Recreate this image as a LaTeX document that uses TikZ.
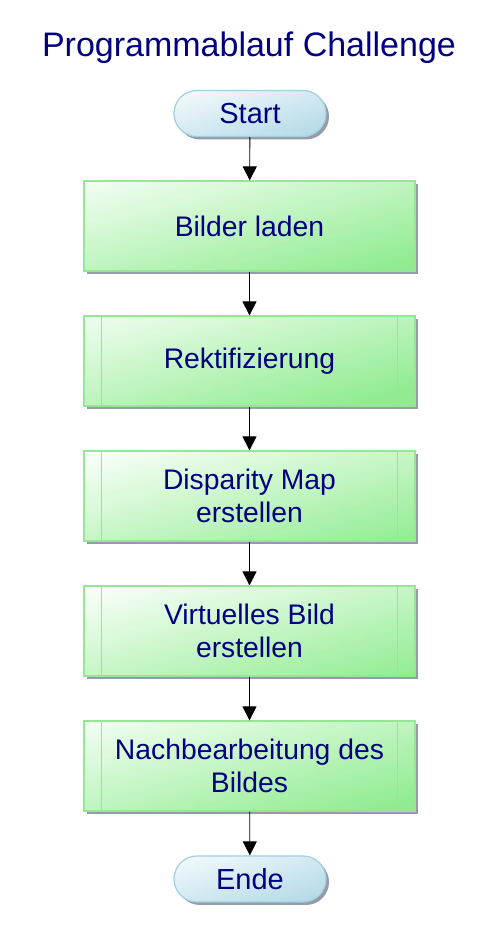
\documentclass[tikz,border=0pt]{standalone}
\usepackage{fontspec}
\setmainfont{Liberation Sans}
\usetikzlibrary{arrows.meta,shadows,calc}

\definecolor{txtnavy}{RGB}{0,0,128}
\definecolor{procfillA}{RGB}{250,255,250}
\definecolor{procfillB}{RGB}{144,236,144}
\definecolor{procline}{RGB}{150,230,150}
\definecolor{termfillA}{RGB}{246,251,253}
\definecolor{termfillB}{RGB}{176,216,230}
\definecolor{termline}{RGB}{160,208,224}
\definecolor{shadowgray}{RGB}{150,155,170}

\tikzset{
  % diagonal colour bands: #1 at the top left corner, #2 at the bottom right,
  % #3 x #4 is the size of the shape
  diagfill/.style n args={4}{fill=#2,path picture={
    \fill[#1] (path picture bounding box.south west) rectangle (path picture bounding box.north east);
    \begin{scope}[shift={(path picture bounding box.south west)},x=#3,y=#4]
      \foreach \k in {0,...,39}{
        \pgfmathsetmacro\ca{\k==0 ? -2 : -1+\k/20}
        \pgfmathsetmacro\cb{\k==39 ? 2 : -1+(\k+1)/20+0.01}
        \pgfmathsetmacro\pc{100-100*(\k+0.5)/40}
        \fill[#1!\pc!#2] ({\ca-1},-1) -- ({\ca+2},2) -- ({\cb+2},2) -- ({\cb-1},-1) -- cycle;
      }
    \end{scope}}},
  boxshadow/.style={drop shadow={shadow xshift=3pt,shadow yshift=-3pt,fill=shadowgray,opacity=1}},
  process/.style={draw=procline,line width=1.2pt,boxshadow,
    diagfill={procfillA}{procfillB}{331pt}{90pt},
    minimum width=331pt,minimum height=90pt,inner sep=0pt,
    text=txtnavy,align=center,font=\fontsize{28.3}{33}\selectfont},
  terminal/.style={draw=termline,line width=1.2pt,boxshadow,rounded corners=23pt,
    diagfill={termfillA}{termfillB}{152pt}{46pt},
    minimum width=152pt,minimum height=46pt,inner sep=0pt,
    text=txtnavy,font=\fontsize{29}{33}\selectfont},
  flow/.style={draw=black,line width=0.8pt,-{Triangle[width=14pt,length=14pt]}},
  sidebar/.style={draw=procline,line width=1.2pt}
}

\begin{document}
\begin{tikzpicture}[x=1pt,y=1pt]
  \useasboundingbox[fill=white] (0,0) rectangle (498,945);

  \node[text=txtnavy,font=\fontsize{34}{40}\selectfont] (title) at (249,897) {Programmablauf Challenge};

  \node[terminal] (start) at (250,831.5) {Start};
  \node[process] (p1) at (249.5,719) {Bilder laden};
  \node[process] (p2) at (249.5,584) {Rektifizierung};
  \node[process] (p3) at (249.5,449) {Disparity Map\\erstellen};
  \node[process] (p4) at (249.5,314) {Virtuelles Bild\\erstellen};
  \node[process] (p5) at (249.5,179) {Nachbearbeitung des\\Bildes};
  \node[terminal] (ende) at (250,66) {Ende};

  % inner vertical bars of the predefined-process boxes
  \foreach \n in {p2,p3,p4,p5}{
    \draw[sidebar] ($(\n.north west)+(18,0)$) -- ($(\n.south west)+(18,0)$);
    \draw[sidebar] ($(\n.north east)+(-18,0)$) -- ($(\n.south east)+(-18,0)$);
  }

  \draw[flow] (start) -- (p1);
  \draw[flow] (p1) -- (p2);
  \draw[flow] (p2) -- (p3);
  \draw[flow] (p3) -- (p4);
  \draw[flow] (p4) -- (p5);
  \draw[flow] (p5) -- (ende);
\end{tikzpicture}
\end{document}
